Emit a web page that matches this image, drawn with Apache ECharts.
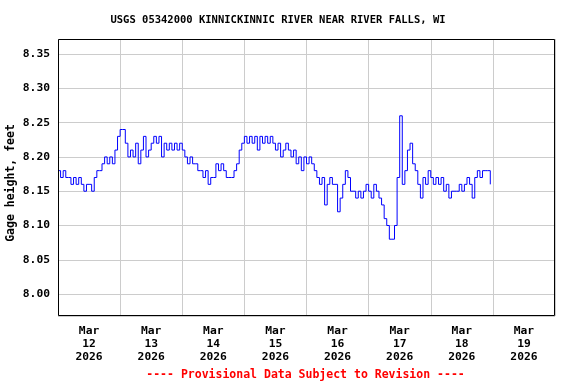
<!DOCTYPE html>
<html>
<head>
<meta charset="utf-8">
<script src="https://cdn.jsdelivr.net/npm/echarts@6/dist/echarts.min.js"></script>
<style>
html,body{margin:0;padding:0;background:#fff;}
#chart{width:576px;height:384px;}
</style>
</head>
<body>
<div id="chart"></div>
<script>
// Hourly gage height (feet), starting Mar 12 2026 00:00
var startLabel = 'Mar 12 2026 00:00';
var gageHeight = [
  // Mar 12
  8.18,8.17,8.18,8.17,8.17,8.16,8.17,8.16,8.17,8.16,8.15,8.16,
  8.16,8.15,8.17,8.18,8.18,8.19,8.20,8.19,8.20,8.19,8.21,8.23,
  // Mar 13
  8.24,8.24,8.22,8.20,8.21,8.20,8.22,8.19,8.21,8.23,8.20,8.21,
  8.22,8.23,8.22,8.23,8.20,8.22,8.21,8.22,8.21,8.22,8.21,8.22,
  // Mar 14
  8.21,8.20,8.19,8.20,8.19,8.19,8.18,8.18,8.17,8.18,8.16,8.17,
  8.17,8.19,8.18,8.19,8.18,8.17,8.17,8.17,8.18,8.19,8.21,8.22,
  // Mar 15
  8.23,8.22,8.23,8.22,8.23,8.21,8.23,8.22,8.23,8.22,8.23,8.22,
  8.21,8.22,8.20,8.21,8.22,8.21,8.20,8.21,8.19,8.20,8.18,8.20,
  // Mar 16
  8.19,8.20,8.19,8.18,8.17,8.16,8.17,8.13,8.16,8.17,8.16,8.16,
  8.12,8.14,8.16,8.18,8.17,8.15,8.15,8.14,8.15,8.14,8.15,8.16,
  // Mar 17
  8.15,8.14,8.16,8.15,8.14,8.13,8.11,8.10,8.08,8.08,8.10,8.17,
  8.26,8.16,8.18,8.21,8.22,8.19,8.18,8.16,8.14,8.17,8.16,8.18,
  // Mar 18
  8.17,8.16,8.17,8.16,8.17,8.15,8.16,8.14,8.15,8.15,8.15,8.16,
  8.15,8.16,8.17,8.16,8.14,8.17,8.18,8.17,8.18,8.18,8.18,8.16
];
var dayLabels = ['Mar\n12\n2026','Mar\n13\n2026','Mar\n14\n2026','Mar\n15\n2026',
                 'Mar\n16\n2026','Mar\n17\n2026','Mar\n18\n2026','Mar\n19\n2026'];
var titleText = 'USGS 05342000 KINNICKINNIC RIVER NEAR RIVER FALLS, WI';
var yAxisName = 'Gage height, feet';
var footerText = '---- Provisional Data Subject to Revision ----';

var seriesData = gageHeight.map(function (v, i) { return [i, v]; });
var FONT = '"DejaVu Sans Mono", "Liberation Mono", monospace';

var chart = echarts.init(document.getElementById('chart'), null, {renderer: 'canvas'});
chart.setOption({
  animation: false,
  backgroundColor: '#ffffff',
  grid: {
    left: 58, right: 21, top: 39, bottom: 68,
    show: false
  },
  xAxis: [
    {
      type: 'value', min: 0, max: 192, interval: 24,
      axisLine: {show: false}, axisTick: {show: false}, axisLabel: {show: false},
      splitLine: {show: true, lineStyle: {color: '#cccccc', width: 1}}
    },
    {
      type: 'category', data: dayLabels, boundaryGap: true, position: 'bottom',
      axisLine: {show: false}, axisTick: {show: false}, splitLine: {show: false},
      axisLabel: {
        margin: 9, interval: 0, fontFamily: FONT, fontWeight: 'bold', fontSize: 11.3,
        lineHeight: 12.8, color: '#000000'
      }
    }
  ],
  yAxis: {
    type: 'value', min: 7.968, max: 8.372, splitNumber: 8,
    minInterval: 0.05, maxInterval: 0.05,
    axisLine: {show: false}, axisTick: {show: false},
    axisLabel: {
      showMinLabel: false, showMaxLabel: false, margin: 8,
      fontFamily: FONT, fontWeight: 'bold', fontSize: 11.3, color: '#000000',
      formatter: function (v) { return v.toFixed(2); }
    },
    splitLine: {show: true, lineStyle: {color: '#cccccc', width: 1}}
  },
  series: [{
    type: 'line', xAxisIndex: 0, yAxisIndex: 0,
    data: seriesData, step: 'end', showSymbol: false, symbol: 'none',
    lineStyle: {color: '#0000ff', width: 1}
  }],
  graphic: [
    {type: 'rect', z: 100, silent: true,
      shape: {x: 58.5, y: 39.5, width: 496, height: 276},
      style: {fill: 'none', stroke: '#000000', lineWidth: 1}},
    {type: 'text', x: 278, y: 20, style: {text: titleText, align: 'center', verticalAlign: 'middle',
      font: 'bold 10.5px ' + FONT, fill: '#000000'}},
    {type: 'text', x: 11, y: 183, rotation: Math.PI / 2,
      style: {text: yAxisName, align: 'center', verticalAlign: 'middle',
      font: 'bold 11.5px ' + FONT, fill: '#000000'}},
    {type: 'text', x: 305.5, y: 375, style: {text: footerText, align: 'center', verticalAlign: 'middle',
      font: 'bold 11.5px ' + FONT, fill: '#ff0000'}}
  ]
});
</script>
</body>
</html>
